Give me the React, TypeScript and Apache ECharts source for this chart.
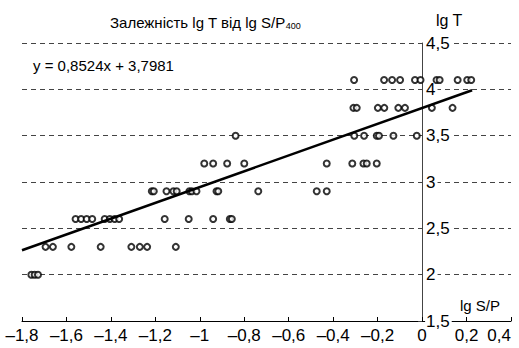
import React, { useEffect, useRef } from "react";
import * as echarts from "echarts";

// lg T levels (rows) and lg S/P values of the points on each row
const lgTLevels = [2.0, 2.3, 2.6, 2.9, 3.2, 3.5, 3.8, 4.1];
const row20 = [-1.758, -1.743, -1.728];
const row23 = [-1.694, -1.661, -1.578, -1.446, -1.308, -1.27, -1.237, -1.108];
const row26 = [-1.559, -1.534, -1.509, -1.484, -1.428, -1.405, -1.383, -1.363, -1.158, -1.05, -0.94, -0.865, -0.856];
const row29 = [-1.216, -1.207, -1.15, -1.119, -1.104, -1.047, -1.036, -1.015, -0.925, -0.917, -0.737, -0.474, -0.429];
const row32 = [-0.98, -0.94, -0.877, -0.8, -0.429, -0.314, -0.264, -0.249, -0.204];
const row35 = [-0.839, -0.305, -0.261, -0.204, -0.194, -0.129, -0.024];
const row38 = [-0.309, -0.294, -0.199, -0.17, -0.107, -0.077, 0.044, 0.137];
const row41 = [-0.306, -0.171, -0.135, -0.099, -0.032, -0.007, 0.065, 0.079, 0.16, 0.203, 0.221];
const rows = [row20, row23, row26, row29, row32, row35, row38, row41];

// trend line y = 0,8524x + 3,7981
const slope = 0.8524;
const intercept = 3.7981;
const trendX = [-1.8, 0.225];

const xTicks = { min: -1.8, max: 0.4, interval: 0.2 };
const yTicks = { min: 1.5, max: 4.5, interval: 0.5 };

const FONT = "'Liberation Sans', Arial, sans-serif";
const W = 519;
const H = 348;
const GRID = { left: 22, right: 8, top: 43, bottom: 27 };

function fmt(v: number): string {
  const r = Math.round(v * 10) / 10;
  return String(r).replace("-", "\u2013").replace(".", ",");
}

export default function App() {
  const ref = useRef<HTMLDivElement>(null);
  useEffect(() => {
    if (!ref.current) return;
    const chart = echarts.init(ref.current, undefined, { renderer: "svg" });
    const points: number[][] = [];
    rows.forEach((r, i) => r.forEach((x) => points.push([x, lgTLevels[i]])));
    const trend = trendX.map((x) => [x, slope * x + intercept]);
    // place the y axis where lg S/P = 0
    const gridW = W - GRID.left - GRID.right;
    const yAxisOffset = -((0 - xTicks.min) / (xTicks.max - xTicks.min)) * gridW;
    chart.setOption({
      animation: false,
      backgroundColor: "#fff",
      textStyle: { fontFamily: FONT },
      title: {
        text: "{a|Залежність lg T від lg S/P}{s|400}",
        left: 105,
        top: 7,
        textStyle: {
          fontWeight: "normal",
          rich: {
            a: { fontFamily: FONT, fontSize: 15, fontWeight: "normal", color: "#000", lineHeight: 20 },
            s: { fontFamily: FONT, fontSize: 9, fontWeight: "normal", color: "#000", lineHeight: 20, padding: [7, 0, 0, 0] },
          },
        },
      },
      grid: { ...GRID, containLabel: false, outerBoundsMode: "none" },
      xAxis: {
        type: "value",
        min: xTicks.min,
        max: xTicks.max,
        interval: xTicks.interval,
        axisLine: { show: true, onZero: false, lineStyle: { color: "#000", width: 1 } },
        axisTick: { show: true, inside: true, length: 4, lineStyle: { color: "#000" } },
        axisLabel: {
          formatter: fmt,
          color: "#000",
          fontSize: 17,
          margin: 6,
          fontFamily: FONT,
          alignMaxLabel: "right",
        },
        splitLine: { show: false },
      },
      yAxis: {
        type: "value",
        position: "left",
        offset: yAxisOffset,
        min: yTicks.min,
        max: yTicks.max,
        interval: yTicks.interval,
        axisLine: { show: true, onZero: false, lineStyle: { color: "#444", width: 1 } },
        axisTick: { show: true, inside: false, length: 4, lineStyle: { color: "#444" } },
        axisLabel: {
          inside: true,
          formatter: fmt,
          color: "#000",
          fontSize: 17,
          margin: 3,
          fontFamily: FONT,
          backgroundColor: "#fff",
          padding: [0, 2, 0, 1],
        },
        splitLine: { show: true, lineStyle: { color: "#444", type: [5, 4], width: 1 } },
      },
      graphic: [
        { type: "text", left: 33, top: 58, style: { text: "y = 0,8524x + 3,7981", fontFamily: FONT, fontSize: 15, fill: "#000" } },
        { type: "text", left: 436, top: 12, style: { text: "lg T", fontFamily: FONT, fontSize: 16, fill: "#000" } },
        { type: "text", left: 460, top: 298, style: { text: "lg S/P", fontFamily: FONT, fontSize: 15, fill: "#000" } },
      ],
      series: [
        {
          type: "scatter",
          data: points,
          symbol: "emptyCircle",
          symbolSize: 6,
          itemStyle: { color: "#000", borderColor: "#000", borderWidth: 1.3 },
          z: 3,
        },
        {
          type: "line",
          data: trend,
          symbol: "none",
          lineStyle: { color: "#000", width: 2.5 },
          z: 4,
        },
      ],
    });
    return () => chart.dispose();
  }, []);
  return <div ref={ref} style={{ width: W, height: H, position: "absolute", left: 0, top: 0 }} />;
}
